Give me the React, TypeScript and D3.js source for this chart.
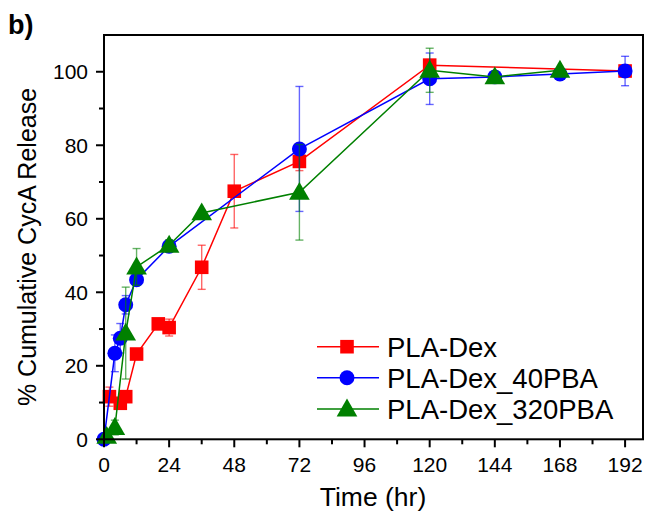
import React from 'react';
import * as d3 from 'd3';

// PLA-Dex
const redTime = [2, 6, 8, 12, 20, 24, 36, 48, 72, 120, 192];
const redVal = [11.6, 9.8, 11.6, 23.2, 31.4, 30.4, 46.8, 67.5, 75.6, 101.8, 100.2];
const redErr = [2.6, 1, 0, 0, 0.5, 2.3, 6, 10, 2.5, 1.5, 0];
// PLA-Dex_40PBA
const blueTime = [0, 4, 6, 8, 12, 24, 72, 120, 144, 168, 192];
const blueVal = [0, 23.4, 27.5, 36.6, 43.4, 52.5, 79, 98.1, 98.6, 99.4, 100.2];
const blueErr = [0, 5, 4, 2.5, 1.5, 1.5, 17, 7, 0, 0, 4];
// PLA-Dex_320PBA
const greenTime = [1, 4, 8, 12, 24, 36, 72, 120, 144, 168];
const greenVal = [0.8, 3.2, 28.9, 46.9, 52.8, 61.6, 67.2, 100.4, 98.6, 100.4];
const greenErr = [0.5, 2, 12.5, 5, 1.5, 0, 13, 6, 1.5, 0];

const xMajor = [0, 24, 48, 72, 96, 120, 144, 168, 192];
const yMajor = [0, 20, 40, 60, 80, 100];

const W = 648, H = 511;
const L = 104, R = 643, T = 35, B = 439.3;
const font = "'Liberation Sans', Arial, sans-serif";

const x = d3.scaleLinear().domain([0, 198.6]).range([L, R]);
const y = d3.scaleLinear().domain([0, 110]).range([B, T]);

const series = [
  { name: 'PLA-Dex', color: '#ff0000', t: redTime, v: redVal, e: redErr, shape: 'square' },
  { name: 'PLA-Dex_40PBA', color: '#0000ff', t: blueTime, v: blueVal, e: blueErr, shape: 'circle' },
  { name: 'PLA-Dex_320PBA', color: '#008000', t: greenTime, v: greenVal, e: greenErr, shape: 'triangle' },
];

const symbolFor = (shape: string) => {
  if (shape === 'square') return d3.symbol().type(d3.symbolSquare).size(185)();
  if (shape === 'circle') return d3.symbol().type(d3.symbolCircle).size(175)();
  return d3.symbol().type(d3.symbolTriangle).size(185)();
};

function Marker({ shape, color, cx, cy }: any) {
  const dy = shape === 'triangle' ? 1.5 : 0;
  return <path d={symbolFor(shape) || ''} transform={`translate(${cx},${cy + dy})`} fill={color} />;
}

export default function App() {
  const xMinor = d3.range(12, 198, 24);
  const yMinor = d3.range(10, 110, 20);

  return (
    <svg width={W} height={H} style={{ position: 'absolute', left: 0, top: 0, background: '#fff' }}>
      <text x={8} y={34} fontFamily={font} fontWeight="bold" fontSize={27}>b)</text>

      {/* series */}
      {series.map((s) => {
        const pts = s.t.map((t, i) => [x(t), y(s.v[i])] as [number, number]);
        return (
          <g key={s.name}>
            <path d={d3.line()(pts) || ''} fill="none" stroke={s.color} strokeWidth={1.5} />
            {s.t.map((t, i) => s.e[i] > 0 ? (
              <g key={i} stroke={s.color} strokeOpacity={0.6} strokeWidth={1.4}>
                <line x1={x(t)} x2={x(t)} y1={y(s.v[i] - s.e[i])} y2={y(s.v[i] + s.e[i])} />
                <line x1={x(t) - 4} x2={x(t) + 4} y1={y(s.v[i] - s.e[i])} y2={y(s.v[i] - s.e[i])} />
                <line x1={x(t) - 4} x2={x(t) + 4} y1={y(s.v[i] + s.e[i])} y2={y(s.v[i] + s.e[i])} />
              </g>
            ) : null)}
            {pts.map((p, i) => <Marker key={i} shape={s.shape} color={s.color} cx={p[0]} cy={p[1]} />)}
          </g>
        );
      })}

      {/* frame */}
      <rect x={L} y={T} width={R - L} height={B - T} fill="none" stroke="#000" strokeWidth={2} />

      {/* x ticks */}
      {xMajor.map((t) => (
        <g key={t}>
          <line x1={x(t)} x2={x(t)} y1={B} y2={B + 8} stroke="#000" strokeWidth={2} />
          <text x={x(t)} y={472} textAnchor="middle" fontFamily={font} fontSize={21}>{t}</text>
        </g>
      ))}
      {xMinor.map((t) => (
        <line key={t} x1={x(t)} x2={x(t)} y1={B} y2={B + 5} stroke="#000" strokeWidth={2} />
      ))}

      {/* y ticks */}
      {yMajor.map((v) => (
        <g key={v}>
          <line x1={L - 8} x2={L} y1={y(v)} y2={y(v)} stroke="#000" strokeWidth={2} />
          <text x={88} y={y(v) + 7.5} textAnchor="end" fontFamily={font} fontSize={21}>{v}</text>
        </g>
      ))}
      {yMinor.map((v) => (
        <line key={v} x1={L - 5} x2={L} y1={y(v)} y2={y(v)} stroke="#000" strokeWidth={2} />
      ))}

      <text x={373} y={506} textAnchor="middle" fontFamily={font} fontSize={26.5}>Time (hr)</text>
      <text transform="translate(36,247) rotate(-90)" textAnchor="middle" fontFamily={font} fontSize={25}>
        % Cumulative CycA Release
      </text>

      {/* legend */}
      {series.map((s, i) => {
        const ly = [346.7, 377.7, 409][i];
        return (
          <g key={s.name}>
            <line x1={317} x2={379} y1={ly} y2={ly} stroke={s.color} strokeWidth={1.5} />
            <Marker shape={s.shape} color={s.color} cx={347} cy={ly} />
            <text x={387} y={ly + 10} fontFamily={font} fontSize={27.5}>{s.name}</text>
          </g>
        );
      })}
    </svg>
  );
}
